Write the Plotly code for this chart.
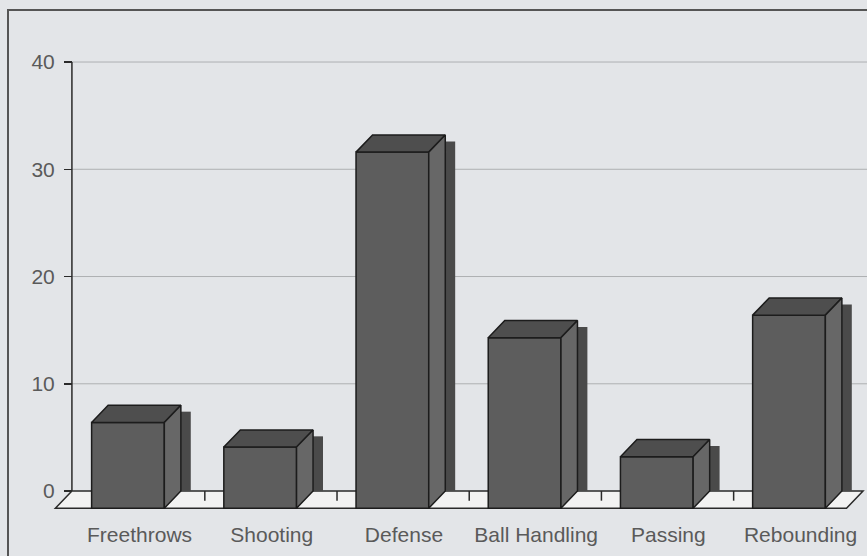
import plotly.graph_objects as go

# ---- data ----
categories = ["Freethrows", "Shooting", "Defense", "Ball Handling", "Passing", "Rebounding"]
values = [8.0, 5.7, 33.2, 15.9, 4.8, 18.0]
y_ticks = [0, 10, 20, 30, 40]

# ---- geometry / style ----
W, H = 867, 556
BAR_W = 0.55      # front face width in category units
DX = 0.125        # depth offset in x (category units)
DY = 1.6          # depth offset in y (value units)
X_RANGE = [-0.968, 5.590]
Y_RANGE = [-2.70, 44.85]
WALL_LEFT = -0.424
WALL_RIGHT = 5.60
BG = "#e3e5e8"
FRONT = "#5d5d5d"
TOP = "#4e4e4e"
SIDE = "#676767"
SHADOW = "#4a4a4a"
EDGE = "#1c1c1c"
TXT = "#5a5a5a"
FONT = "Liberation Sans, Arial, sans-serif"

xs = list(range(len(categories)))
hw = BAR_W / 2

fig = go.Figure()

# shadows behind bars
for c, v in zip(xs, values):
    x0 = c + hw + DX
    x1 = x0 + 0.075
    fig.add_trace(go.Scatter(
        x=[x0, x1, x1, x0, x0], y=[v - 0.6, v - 0.6, 0.0, 0.0, v - 0.6],
        mode="lines", fill="toself", fillcolor=SHADOW,
        line=dict(color=SHADOW, width=0), hoverinfo="skip", showlegend=False))

# front faces
fig.add_trace(go.Bar(
    x=xs, y=values, base=[-DY] * len(values), width=BAR_W,
    marker=dict(color=FRONT, line=dict(color=EDGE, width=1.5)),
    hoverinfo="skip", showlegend=False))

# top and side faces
for c, v in zip(xs, values):
    l, r = c - hw, c + hw
    fig.add_trace(go.Scatter(
        x=[l, r, r + DX, l + DX, l], y=[v - DY, v - DY, v, v, v - DY],
        mode="lines", fill="toself", fillcolor=TOP,
        line=dict(color=EDGE, width=1.5), hoverinfo="skip", showlegend=False))
    fig.add_trace(go.Scatter(
        x=[r, r + DX, r + DX, r, r], y=[-DY, 0.0, v, v - DY, -DY],
        mode="lines", fill="toself", fillcolor=SIDE,
        line=dict(color=EDGE, width=1.5), hoverinfo="skip", showlegend=False))

shapes = []
# back-wall gridlines
for t in y_ticks[1:]:
    shapes.append(dict(type="line", xref="x", yref="y", x0=WALL_LEFT, x1=WALL_RIGHT,
                       y0=t, y1=t, line=dict(color="#aeb0b2", width=1), layer="below"))
# floor
fl, fr = WALL_LEFT, WALL_RIGHT - 0.04
shapes.append(dict(
    type="path", xref="x", yref="y", layer="below",
    path=f"M {fl},0 L {fr},0 L {fr - DX},{-DY} L {fl - DX},{-DY} Z",
    fillcolor="#f2f2f2", line=dict(color="#2a2a2a", width=1.5)))
# floor ticks between categories
for c in xs[:-1]:
    xt = c + 0.5 + DX * 0.65
    shapes.append(dict(type="line", xref="x", yref="y", x0=xt, x1=xt, y0=0, y1=-0.9,
                       line=dict(color="#2a2a2a", width=1.5), layer="below"))
# y axis line
shapes.append(dict(type="line", xref="x", yref="y", x0=WALL_LEFT, x1=WALL_LEFT,
                   y0=0, y1=y_ticks[-1], line=dict(color="#2a2a2a", width=1.5)))
# outer frame
shapes.append(dict(type="rect", xref="paper", yref="paper",
                   x0=8 / W, x1=1.05, y0=-0.2, y1=1.0,
                   line=dict(color="#555555", width=2)))

fig.update_layout(
    width=W, height=H,
    margin=dict(l=0, r=0, t=10, b=36),
    paper_bgcolor=BG, plot_bgcolor=BG,
    bargap=0, shapes=shapes,
    xaxis=dict(range=X_RANGE, tickmode="array",
               tickvals=[c + DX * 0.7 for c in xs], ticktext=categories,
               showgrid=False, zeroline=False, showline=False, ticks="",
               tickfont=dict(family=FONT, size=21, color=TXT), fixedrange=True),
    yaxis=dict(range=Y_RANGE, tickmode="array", tickvals=y_ticks,
               ticktext=[str(t) for t in y_ticks],
               anchor="free", position=72 / W,
               showgrid=False, zeroline=False, showline=False,
               ticks="outside", ticklen=8, tickcolor="#2a2a2a", tickwidth=1.5,
               ticklabelstandoff=5,
               tickfont=dict(family=FONT, size=21, color=TXT), fixedrange=True),
    font=dict(family=FONT),
)

fig.write_html("out.html", config={"displayModeBar": False, "staticPlot": True},
               post_script="document.body.style.margin='0';document.body.style.overflow='hidden';")
